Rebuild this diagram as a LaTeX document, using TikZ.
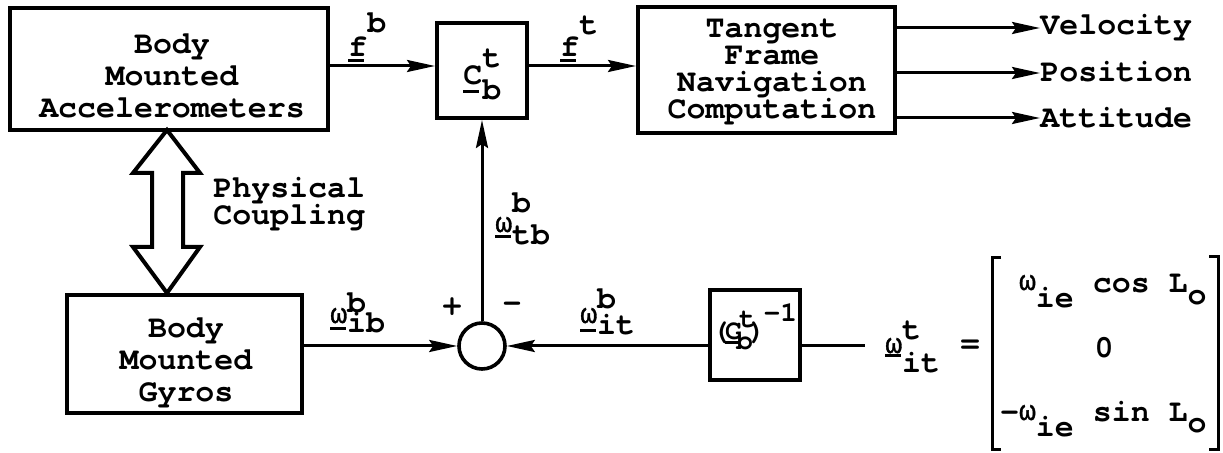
\documentclass[tikz,border=0pt]{standalone}
\usepackage{fontspec}
\setmainfont{texgyrecursor-bold.otf}
\newfontfamily\gk{Liberation Mono}[FakeBold=1.2]
\usetikzlibrary{arrows.meta}
\newcommand\ubar[2]{\rlap{\raisebox{#1}{\rule{0.5em}{1.3pt}}}#2}
\newcommand\om{{\gk\fontsize{14}{14}\selectfont ω}}
% omega label: sub, sup, bar raise, omega raise, sup raise
\newcommand\wl[5]{\ubar{#3}{\raisebox{#4}{\om}}\rlap{\raisebox{#5}{#2}}#1}
\begin{document}
\begin{tikzpicture}[x=0.5pt,y=-0.5pt,
  font=\fontsize{15.8}{16}\selectfont,
  box/.style={draw,line width=2pt,inner sep=0pt},
  txt/.style={align=center,inner sep=0pt},
  lbl/.style={inner sep=0pt,anchor=base west},
  conn/.style={line width=1.5pt},
  arr/.style={conn,-{Stealth[length=14pt,width=6pt,inset=2pt]}}]
\path[fill=white,use as bounding box] (0,0) rectangle (1223,453);

% blocks
\node[box,minimum width=159pt,minimum height=61pt] (acc) at (169,69) {};
\node[txt] (acct) at (172,76) {Body\\Mounted\\Accelerometers};
\node[box,minimum width=45pt,minimum height=47.5pt] (C) at (482,70.5) {};
\node[lbl] (Ct) at (463,100) {\ubar{3.5pt}{\raisebox{7.5pt}{C}}\rlap{\raisebox{16pt}{t}}b};
\node[box,minimum width=128.5pt,minimum height=63pt] (tan) at (766.5,70) {};
\node[txt,font=\fontsize{15.8}{13.5}\selectfont] (tant) at (772,72) {Tangent\\Frame\\Navigation\\Computation};
\node[box,minimum width=117.5pt,minimum height=59pt] (gyro) at (184.5,354) {};
\node[txt] (gyrot) at (186,363) {Body\\Mounted\\Gyros};
\node[draw,circle,line width=1.8pt,minimum size=23pt,inner sep=0pt] (sum) at (482,346) {};
\node[box,minimum width=45pt,minimum height=45pt] (inv) at (755,335) {};
\node[inner sep=0pt,anchor=base west,font=\fontsize{14}{14}\selectfont] (invt) at (712,340)
  {(\kern-2pt\ubar{-2pt}{C}\kern-3pt\rlap{\kern1.5pt\raisebox{6pt}{t}}\raisebox{-5pt}{b}\kern-2pt)\kern-1pt\raisebox{9pt}{-1}};

% outputs
\node[lbl] (vel) at (1040,35) {Velocity};
\node[lbl] (pos) at (1040,82) {Position};
\node[lbl] (att) at (1040,128) {Attitude};

% physical coupling
\draw[line width=2pt,line join=miter]
  (167,130) -- (200,173) -- (183,173) -- (183,247) -- (200,247) -- (167,293)
  -- (133,247) -- (152,247) -- (152,173) -- (133,173) -- cycle;
\node[inner sep=0pt,anchor=west,align=left,font=\fontsize{15.8}{13.5}\selectfont] (phys) at (213,204) {Physical\\Coupling};

% connectors
\draw[arr] (acc.east |- 0,66) -- (C.west |- 0,66);
\draw[arr] (C.east |- 0,66) -- (tan.west |- 0,66);
\draw[arr] (tan.east |- 0,28) -- (vel.west |- 0,28);
\draw[arr] (tan.east |- 0,73) -- (pos.west |- 0,73);
\draw[arr] (tan.east |- 0,118) -- (att.west |- 0,118);
\draw[arr] (sum.north) -- (C.south);
\draw[arr] (gyro.east |- sum.west) -- (sum.west);
\draw[arr] (inv.west |- sum.east) -- (sum.east);
\coordinate (wend) at (865,346);
\draw[conn] (inv.east |- sum.east) -- (wend);

% labels
\node[lbl] (lfb) at (348,57) {\ubar{-2.5pt}{f}\raisebox{12pt}{b}};
\node[lbl] (lft) at (560,57) {\ubar{-2.5pt}{f}\raisebox{11pt}{t}};
\node[lbl] (lwtb) at (495,245) {\wl{tb}{b}{3.5pt}{6.5pt}{16pt}};
\node[lbl] (lwib) at (330,333) {\wl{ib}{b}{1.5pt}{5pt}{10pt}};
\node[lbl] (lwit) at (580,335) {\wl{it}{b}{1.5pt}{6pt}{13pt}};
\node[lbl] (lwitt) at (885,373) {\wl{it}{t}{8pt}{10pt}{16.5pt}};
\node[inner sep=0pt] (plus) at (452,307) {+};
\node[inner sep=0pt] (minus) at (512,307) {-};
\node[inner sep=0pt] (eq) at (970,346) {=};

% matrix
\draw[line width=1.5pt] (1001,258) -- (992,258) -- (992,450) -- (1001,450);
\draw[line width=1.5pt] (1209,257) -- (1218,257) -- (1218,450) -- (1209,450);
\node[inner sep=0pt,anchor=base east] (m1) at (1207,293)
  {\raisebox{1.5pt}{\om}\raisebox{-7.5pt}{ie} cos L\raisebox{-6pt}{o}};
\node[inner sep=0pt,anchor=base] (m2) at (1104,358) {0};
\node[inner sep=0pt,anchor=base east] (m3) at (1207,422)
  {-\raisebox{1pt}{\om}\raisebox{-7.5pt}{ie} sin L\raisebox{-5.5pt}{o}};
\end{tikzpicture}
\end{document}
